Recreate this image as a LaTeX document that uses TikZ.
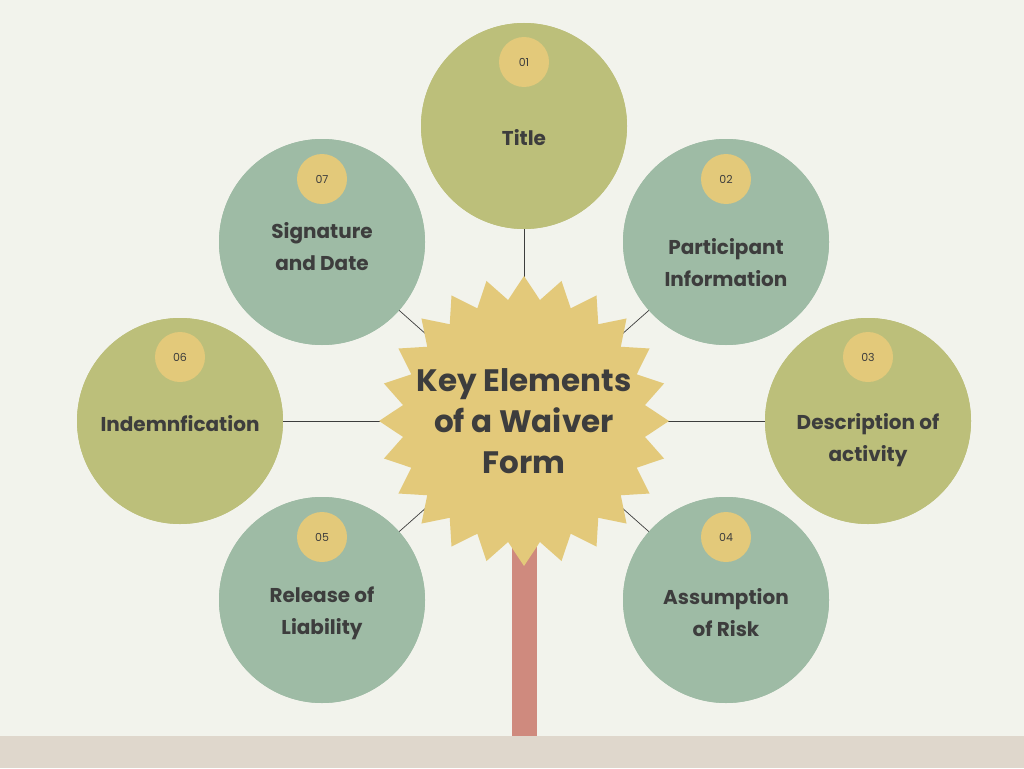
\documentclass[tikz,border=0pt]{standalone}
\usepackage{fontspec}
\setmainfont{Poppins}
\definecolor{bg}{HTML}{F2F3EC}
\definecolor{olive}{HTML}{BCBF7A}
\definecolor{sage}{HTML}{9EBBA5}
\definecolor{gold}{HTML}{E3C97A}
\definecolor{trunk}{HTML}{CF8A7E}
\definecolor{ground}{HTML}{DFD7CC}
\definecolor{ink}{HTML}{3D3D3D}
\begin{document}
\begin{tikzpicture}[x=1pt,y=-1pt,
  big/.style={circle,minimum size=206pt,inner sep=0pt,text=ink,font=\bfseries\fontsize{20}{32}\selectfont,align=center},
  badge/.style={circle,fill=gold,minimum size=50pt,inner sep=0pt,text=ink,font=\fontsize{11}{13}\selectfont},
  link/.style={draw=ink,line width=0.7pt}]
\fill[bg] (0,0) rectangle (1024,768);
\useasboundingbox (0,0) rectangle (1024,768);
\fill[ground] (0,736) rectangle (1024,768);
\fill[trunk] (512,540) rectangle (537,736);
\coordinate (c) at (524,421);
\node[big,fill=olive] (t) at (524,126) {};
\node[big,fill=sage] (s) at (322,242) {};
\node[big,fill=sage] (p) at (726,242) {};
\node[big,fill=olive] (i) at (180,421) {};
\node[big,fill=olive] (d) at (868,421) {};
\node[big,fill=sage] (r) at (322,600) {};
\node[big,fill=sage] (a) at (726,600) {};
\foreach \n in {t,s,p,i,d,r,a} \draw[link] (c) -- (\n);
\foreach \n/\col in {t/olive,s/sage,p/sage,i/olive,d/olive,r/sage,a/sage}
  \fill[\col] (\n) circle (103);
\fill[gold] plot[samples=49,domain=0:48,variable=\k]
  ({524+(mod(\k,2)==0?145:122)*cos(90+\k*7.5)},{421-(mod(\k,2)==0?145:122)*sin(90+\k*7.5)}) -- cycle;
\node[text=ink,font=\bfseries\fontsize{31}{41}\selectfont,align=center] (key) at (c) {Key Elements\\of a Waiver\\Form};
\node[big] at (524,138) {Title};
\node[big] at (322,247) {Signature\\and Date};
\node[big] at (726,263) {Participant\\Information};
\node[big] at (180,424) {Indemnfication};
\node[big] at (868,440) {Description of\\activity};
\node[big] at (322,613) {Release of\\Liability};
\node[big] at (726,613) {Assumption\\of Risk};
\node[badge] (b1) at (524,62) {01};
\node[badge] (b7) at (322,179) {07};
\node[badge] (b2) at (726,179) {02};
\node[badge] (b6) at (180,357) {06};
\node[badge] (b3) at (868,357) {03};
\node[badge] (b5) at (322,537) {05};
\node[badge] (b4) at (726,537) {04};
\end{tikzpicture}
\end{document}
